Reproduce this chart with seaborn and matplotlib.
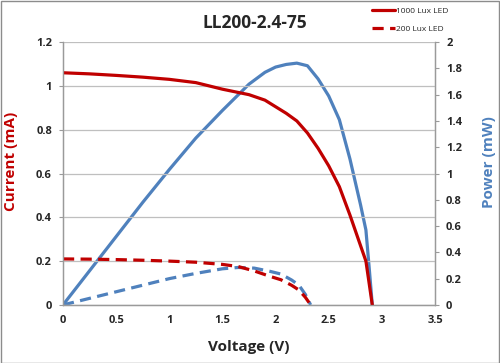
"""LL200-2.4-75 IV / power curves under 1000 and 200 lux LED light."""

import matplotlib
matplotlib.use("Agg")
import matplotlib.pyplot as plt
import pandas as pd
import seaborn as sns
from matplotlib.lines import Line2D
from matplotlib.patches import Rectangle

# 1000 lux LED
volt_1000 = [0, 0.25, 0.5, 0.75, 1.0, 1.25, 1.5, 1.75, 1.9, 2.0, 2.1, 2.2,
             2.3, 2.4, 2.5, 2.6, 2.7, 2.8, 2.85, 2.88, 2.91]
curr_1000 = [1.06, 1.055, 1.048, 1.04, 1.03, 1.015, 0.985, 0.96, 0.935, 0.905,
             0.875, 0.84, 0.785, 0.715, 0.635, 0.54, 0.41, 0.27, 0.20, 0.10, 0.0]
power_1000 = [0, 0.26, 0.52, 0.78, 1.03, 1.27, 1.48, 1.68, 1.77, 1.81, 1.83,
              1.84, 1.82, 1.72, 1.59, 1.41, 1.11, 0.76, 0.57, 0.29, 0.0]

# 200 lux LED
volt_200 = [0, 0.25, 0.5, 0.75, 1.0, 1.25, 1.5, 1.65, 1.8, 1.95, 2.05, 2.15,
            2.22, 2.28, 2.33]
curr_200 = [0.21, 0.209, 0.207, 0.204, 0.2, 0.195, 0.185, 0.175, 0.155, 0.13,
            0.115, 0.09, 0.068, 0.035, 0.0]
power_200 = [0, 0.05, 0.10, 0.15, 0.20, 0.24, 0.275, 0.285, 0.28, 0.255,
             0.235, 0.19, 0.15, 0.08, 0.0]

RED = "#C00000"
BLUE = "#4F81BD"
DASH = (0, (3.5, 2))

sns.set_style("white")
plt.rcParams["font.family"] = ["Open Sans", "DejaVu Sans"]
plt.rcParams["font.weight"] = "bold"

df_1000 = pd.DataFrame({"V": volt_1000, "I": curr_1000, "P": power_1000})
df_200 = pd.DataFrame({"V": volt_200, "I": curr_200, "P": power_200})

fig = plt.figure(figsize=(5, 3.63), dpi=100)
ax = fig.add_axes([0.126, 0.16, 0.744, 0.724])
ax2 = ax.twinx()

lw = 2.3
sns.lineplot(data=df_1000, x="V", y="P", ax=ax2, color=BLUE, lw=lw, sort=False)
sns.lineplot(data=df_200, x="V", y="P", ax=ax2, color=BLUE, lw=lw, sort=False,
             linestyle=DASH)
sns.lineplot(data=df_1000, x="V", y="I", ax=ax, color=RED, lw=lw, sort=False)
sns.lineplot(data=df_200, x="V", y="I", ax=ax, color=RED, lw=lw, sort=False,
             linestyle=DASH)

# current axis drawn on top of power axis, as in the original
ax.set_zorder(ax2.get_zorder() + 1)
ax.patch.set_visible(False)

ax.set_xlim(0, 3.5)
ax.set_ylim(0, 1.2)
ax2.set_ylim(0, 2)
ax.set_xticks([0, 0.5, 1, 1.5, 2, 2.5, 3, 3.5])
ax.set_xticklabels(["0", "0.5", "1", "1.5", "2", "2.5", "3", "3.5"])
ax.set_yticks([0, 0.2, 0.4, 0.6, 0.8, 1, 1.2])
ax.set_yticklabels(["0", "0.2", "0.4", "0.6", "0.8", "1", "1.2"])
ax2.set_yticks([0, 0.2, 0.4, 0.6, 0.8, 1, 1.2, 1.4, 1.6, 1.8, 2])
ax2.set_yticklabels(["0", "0.2", "0.4", "0.6", "0.8", "1", "1.2", "1.4",
                     "1.6", "1.8", "2"])

ax.yaxis.grid(True, color="#BFBFBF", lw=0.9)
ax2.grid(False)
ax.set_axisbelow(True)

for a in (ax, ax2):
    a.tick_params(labelsize=8, length=3, width=0.8, color="#9A9A9A", pad=5)
    a.tick_params(axis="x", length=0, pad=7)
    for lab in a.get_xticklabels() + a.get_yticklabels():
        lab.set_fontweight("bold")
    a.spines["top"].set_visible(False)
    for side in ("left", "right", "bottom"):
        a.spines[side].set_color("#9A9A9A")
        a.spines[side].set_linewidth(0.9)

ax.set_xlabel("Voltage (V)", fontsize=11, fontweight="bold", labelpad=10)
ax.set_ylabel("Current (mA)", fontsize=11, fontweight="bold", color=RED)
ax2.set_ylabel("Power (mW)", fontsize=11, fontweight="bold", color=BLUE)
ax.yaxis.set_label_coords(-0.12, 0.545)
ax2.yaxis.set_label_coords(1.127, 0.545)

fig.text(0.51, 0.937, "LL200-2.4-75", ha="center", va="center",
         fontsize=12.5, fontweight="bold")

handles = [
    Line2D([], [], color=RED, lw=lw),
    Line2D([], [], color=RED, lw=lw, linestyle=DASH),
]
fig.legend(handles, ["1000 Lux LED", "200 Lux LED"], loc="upper left",
           bbox_to_anchor=(0.728, 1.0), frameon=False,
           handlelength=2.8, handletextpad=0.2, labelspacing=1.2,
           prop={"size": 6, "weight": "normal"})

fig.patches.append(Rectangle((0.001, 0.001), 0.997, 0.997,
                             transform=fig.transFigure, fill=False,
                             edgecolor="#8C8C8C", lw=1.0))

fig.savefig("out.png", dpi=100)
